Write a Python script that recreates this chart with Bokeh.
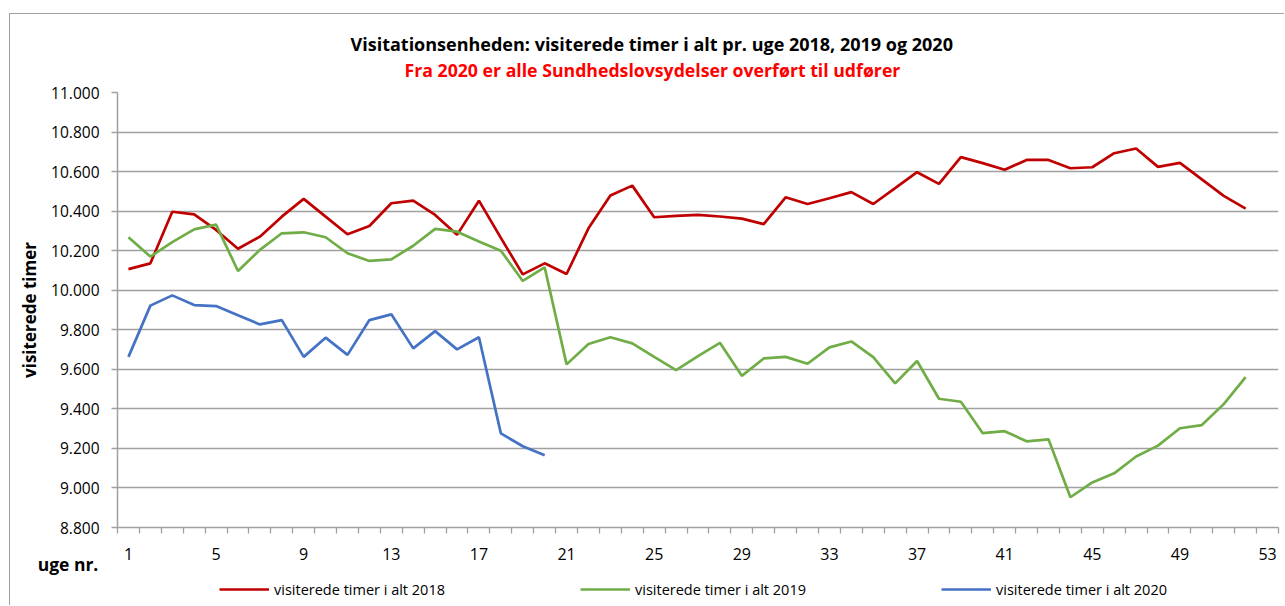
from bokeh.plotting import figure
from bokeh.models import FixedTicker, Legend, LegendItem, Range1d, Title, Label
from bokeh.embed import file_html
from bokeh.resources import INLINE

# ---------------- data ----------------
weeks_2018 = list(range(1, 53))
hours_2018 = [10107, 10136, 10397, 10384, 10305, 10210, 10271, 10372, 10462, 10372,
              10283, 10325, 10440, 10453, 10381, 10280, 10453, 10265, 10080, 10136,
              10082, 10313, 10479, 10529, 10369, 10376, 10381, 10373, 10362, 10334,
              10470, 10436, 10465, 10496, 10436, 10516, 10597, 10538, 10673, 10643,
              10609, 10659, 10659, 10617, 10622, 10693, 10717, 10624, 10644, 10561,
              10477, 10413]

weeks_2019 = list(range(1, 53))
hours_2019 = [10268, 10170, 10243, 10308, 10332, 10097, 10204, 10288, 10293, 10268,
              10187, 10148, 10156, 10225, 10310, 10296, 10246, 10200, 10047, 10116,
              9625, 9728, 9762, 9731, 9663, 9596, 9667, 9734, 9567, 9655,
              9663, 9628, 9711, 9741, 9662, 9529, 9642, 9451, 9436, 9277,
              9287, 9236, 9246, 8953, 9028, 9074, 9159, 9214, 9302, 9318,
              9424, 9560]

weeks_2020 = list(range(1, 21))
hours_2020 = [9663, 9922, 9974, 9925, 9920, 9873, 9827, 9849, 9663, 9760,
              9673, 9849, 9878, 9706, 9793, 9701, 9762, 9276, 9211, 9166]

series_labels = ["visiterede timer i alt 2018",
                 "visiterede timer i alt 2019",
                 "visiterede timer i alt 2020"]
series_colors = ["#C00000", "#70AD47", "#4472C4"]
series_weeks = [weeks_2018, weeks_2019, weeks_2020]
series_hours = [hours_2018, hours_2019, hours_2020]

n_weeks = 53
x_tick_values = [1, 5, 9, 13, 17, 21, 25, 29, 33, 37, 41, 45, 49, 53]
x_tick_labels = ["1", "5", "9", "13", "17", "21", "25", "29", "33", "37", "41", "45", "49", "53"]
y_tick_values = [8800, 9000, 9200, 9400, 9600, 9800, 10000, 10200, 10400, 10600, 10800, 11000]
y_tick_labels = ["8.800", "9.000", "9.200", "9.400", "9.600", "9.800", "10.000",
                 "10.200", "10.400", "10.600", "10.800", "11.000"]

title_text = "Visitationsenheden: visiterede timer i alt pr. uge 2018, 2019 og 2020"
subtitle_text = "Fra 2020 er alle Sundhedslovsydelser overført til udfører"
y_label_text = "visiterede timer"
x_label_text = "uge nr."

FONT = "Open Sans"
GRID = "#a0a0a0"
LINE_W = 2.7

# ---------------- main figure ----------------
p = figure(width=1275, height=592,
           x_range=Range1d(0.5, n_weeks + 0.5),
           y_range=Range1d(y_tick_values[0], y_tick_values[-1]),
           output_backend="svg", toolbar_location=None,
           min_border_left=107, min_border_right=7,
           min_border_top=78, min_border_bottom=79)
p.styles = {"border-top": "1px solid #a0a0a0", "border-left": "1px solid #a0a0a0",
            "margin-top": "13px", "margin-left": "9px"}
p.outline_line_color = None
p.background_fill_color = "white"
p.border_fill_color = "white"

p.xgrid.grid_line_color = None
p.ygrid.ticker = FixedTicker(ticks=y_tick_values)
p.ygrid.grid_line_color = GRID
p.ygrid.grid_line_width = 1.3

# x axis: tick marks on week boundaries (minor), labels on weeks (major)
xa = p.xaxis[0]
xa.ticker = FixedTicker(ticks=x_tick_values,
                        minor_ticks=[w - 0.5 for w in range(1, n_weeks + 2)])
xa.major_label_overrides = dict(zip(x_tick_values, x_tick_labels))
xa.major_tick_line_color = None
xa.major_tick_in = 0
xa.major_tick_out = 6
xa.minor_tick_in = 0
xa.minor_tick_out = 6
xa.minor_tick_line_color = GRID
xa.minor_tick_line_width = 1.3
xa.axis_line_color = GRID
xa.axis_line_width = 1.5
xa.major_label_text_font = FONT
xa.major_label_text_font_size = "16px"
xa.major_label_text_color = "black"
xa.major_label_standoff = 14

ya = p.yaxis[0]
ya.ticker = FixedTicker(ticks=y_tick_values)
ya.major_label_overrides = dict(zip(y_tick_values, y_tick_labels))
ya.major_tick_in = 0
ya.major_tick_out = 6
ya.major_tick_line_color = GRID
ya.major_tick_line_width = 1.3
ya.minor_tick_line_color = None
ya.axis_line_color = GRID
ya.axis_line_width = 1.5
ya.major_label_text_font = FONT
ya.major_label_text_font_size = "15.5px"
ya.major_label_text_color = "black"
ya.major_label_standoff = 12
ya.axis_label = y_label_text
ya.axis_label_text_font = FONT
ya.axis_label_text_font_size = "17px"
ya.axis_label_text_font_style = "bold"
ya.axis_label_text_color = "black"
ya.axis_label_standoff = 7

for wk, hrs, col in zip(series_weeks, series_hours, series_colors):
    p.line(wk, hrs, line_color=col, line_width=LINE_W)

p.add_layout(Title(text=subtitle_text, align="left", offset=287, standoff=21,
                   vertical_align="bottom", text_font=FONT, text_font_size="17.7px",
                   text_font_style="bold", text_color="#FF0000"), "above")
p.add_layout(Title(text=title_text, align="left", offset=233, standoff=-20,
                   vertical_align="bottom", text_font=FONT, text_font_size="18px",
                   text_font_style="bold", text_color="black"), "above")

# ---------------- overlay strip: "uge nr." + legend ----------------
PAGE_W, STRIP_TOP, STRIP_BOTTOM = 1285, 545, 606
p2 = figure(width=PAGE_W - 10, height=STRIP_BOTTOM - STRIP_TOP,
            x_range=Range1d(10, PAGE_W), y_range=Range1d(STRIP_BOTTOM, STRIP_TOP),
            output_backend="svg", toolbar_location=None,
            x_axis_type=None, y_axis_type=None,
            min_border=0, min_border_left=0, min_border_right=0,
            min_border_top=0, min_border_bottom=0)
p2.styles = {"position": "absolute", "top": f"{STRIP_TOP}px", "left": "10px"}
p2.outline_line_color = None
p2.background_fill_alpha = 0
p2.border_fill_alpha = 0
p2.grid.visible = False

# legend swatch renderers: same series, they fall outside this strip's ranges
swatches = [p2.line(wk, hrs, line_color=col, line_width=LINE_W)
            for wk, hrs, col in zip(series_weeks, series_hours, series_colors)]
legend = Legend(items=[LegendItem(label=lab, renderers=[r])
                       for lab, r in zip(series_labels, swatches)],
                orientation="horizontal", location=(209, 7),
                padding=0, spacing=126, margin=0,
                glyph_width=50, glyph_height=20, label_height=20,
                label_standoff=5, label_width=180,
                border_line_color=None, background_fill_alpha=0,
                label_text_font=FONT, label_text_font_size="14.5px",
                label_text_color="black")
p2.add_layout(legend)
p2.add_layout(Label(x=67.5, y=563, text=x_label_text, text_align="center",
                    text_baseline="middle", text_font=FONT, text_font_size="17.5px",
                    text_font_style="bold", text_color="black"))

open("out.html", "w").write(file_html([p, p2], INLINE))
